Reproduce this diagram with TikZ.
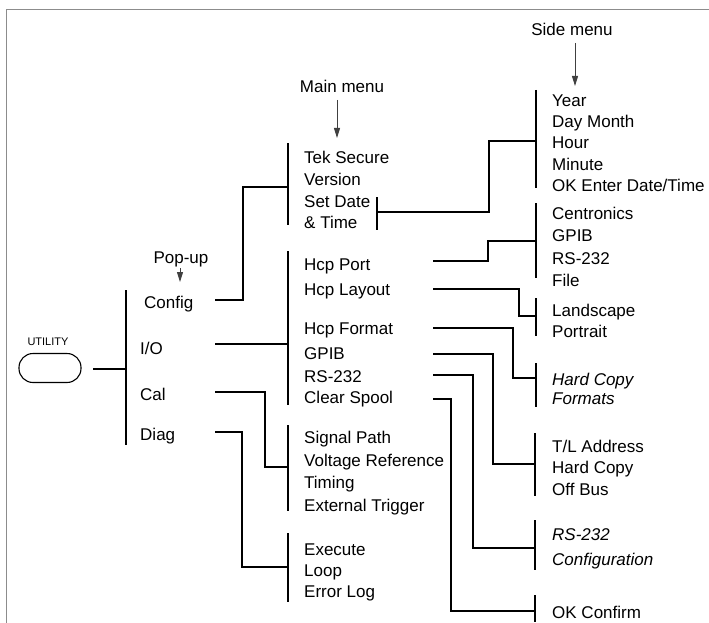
\documentclass[tikz,border=0pt]{standalone}
\usepackage{fontspec}
\setmainfont{Liberation Sans}
\usetikzlibrary{arrows.meta}
\begin{document}
\begin{tikzpicture}[x=1pt,y=-1pt,
  lbl/.style={anchor=base west, inner sep=0pt, font=\fontsize{17}{20}\selectfont},
  ital/.style={anchor=base west, inner sep=0pt, font=\fontsize{17}{20}\selectfont\itshape},
  heading/.style={anchor=base, inner sep=0pt, font=\fontsize{17}{20}\selectfont},
  bar/.style={line width=2.2pt},
  conn/.style={line width=1.8pt},
  pointer/.style={line width=0.9pt, black!75, -{Triangle[length=10pt,width=6pt]}},
  framing/.style={line width=0.9pt, black!45}]
\useasboundingbox (0,0) rectangle (709,623);
% frame
\draw[framing] (6,623) -- (6,9) -- (709,9);

% headings and pointers
\node[heading] (hpop) at (181,263) {Pop-up};
\node[heading] (hmain) at (342,93) {Main menu};
\node[heading] (hside) at (572,36) {Side menu};
\coordinate (apop1) at (180,268); \coordinate (apop2) at (180,282);
\coordinate (amain1) at (337,100); \coordinate (amain2) at (337,138);
\coordinate (aside1) at (575,43); \coordinate (aside2) at (575,86);
\draw[pointer] (apop1) -- (apop2);
\draw[pointer] (amain1) -- (amain2);
\draw[pointer] (aside1) -- (aside2);

% utility button
\node[anchor=base, inner sep=0pt, font=\fontsize{11}{13}\selectfont] (utl) at (48,345) {UTILITY};
\node[draw, line width=1.1pt, rounded corners=14pt, minimum width=62pt, minimum height=29pt, inner sep=0pt] (btn) at (50,368) {};

% pop-up menu
\node[lbl] (cfg) at (144,308) {Config};
\node[lbl] (io) at (140,354) {I/O};
\node[lbl] (cal) at (140,400) {Cal};
\node[lbl] (diag) at (140,440) {Diag};
\coordinate (pbT) at (126,290); \coordinate (pbB) at (126,445);
\draw[bar] (pbT) -- (pbB);

% main menu group 1
\node[lbl] (tek) at (304,163) {Tek Secure};
\node[lbl] (ver) at (304,185) {Version};
\node[lbl] (sdate) at (304,207) {Set Date};
\node[lbl] (stime) at (304,228) {\& Time};
\coordinate (m1T) at (288,143); \coordinate (m1B) at (288,225);
\draw[bar] (m1T) -- (m1B);
\coordinate (sdT) at (377,197); \coordinate (sdB) at (377,230);
\draw[bar] (sdT) -- (sdB);

% main menu group 2
\node[lbl] (hport) at (304,270) {Hcp Port};
\node[lbl] (hlay) at (304,295) {Hcp Layout};
\node[lbl] (hfmt) at (304,334) {Hcp Format};
\node[lbl] (gpib) at (304,359) {GPIB};
\node[lbl] (rs) at (304,382) {RS-232};
\node[lbl] (clr) at (304,403) {Clear Spool};
\coordinate (m2T) at (288,251); \coordinate (m2B) at (288,405);
\draw[bar] (m2T) -- (m2B);

% main menu group 3
\node[lbl] (sig) at (304,443) {Signal Path};
\node[lbl] (volt) at (304,466) {Voltage Reference};
\node[lbl] (tim) at (304,488) {Timing};
\node[lbl] (ext) at (304,511) {External Trigger};
\coordinate (m3T) at (288,425); \coordinate (m3B) at (288,511);
\draw[bar] (m3T) -- (m3B);

% main menu group 4
\node[lbl] (exe) at (304,555) {Execute};
\node[lbl] (loop) at (304,576) {Loop};
\node[lbl] (elog) at (304,597) {Error Log};
\coordinate (m4T) at (288,533); \coordinate (m4B) at (288,602);
\draw[bar] (m4T) -- (m4B);

% side menus
\node[lbl] (year) at (552,107) {Year};
\node[lbl] (day) at (552,128) {Day Month};
\node[lbl] (hour) at (552,149) {Hour};
\node[lbl] (minu) at (552,170) {Minute};
\node[lbl] (oken) at (552,191) {OK Enter Date/Time};
\coordinate (s1T) at (536,90); \coordinate (s1B) at (536,188);
\draw[bar] (s1T) -- (s1B);

\node[lbl] (cen) at (552,219) {Centronics};
\node[lbl] (sgpib) at (552,241) {GPIB};
\node[lbl] (srs) at (552,264) {RS-232};
\node[lbl] (file) at (552,286) {File};
\coordinate (s2T) at (536,203); \coordinate (s2B) at (536,278);
\draw[bar] (s2T) -- (s2B);

\node[lbl] (land) at (552,316) {Landscape};
\node[lbl] (port) at (552,337) {Portrait};
\coordinate (s3T) at (536,298); \coordinate (s3B) at (536,336);
\draw[bar] (s3T) -- (s3B);

\node[ital] (hcf1) at (552,385) {Hard Copy};
\node[ital] (hcf2) at (552,404) {Formats};
\coordinate (s4T) at (536,363); \coordinate (s4B) at (536,407);
\draw[bar] (s4T) -- (s4B);

\node[lbl] (tl) at (552,452) {T/L Address};
\node[lbl] (hcopy) at (552,473) {Hard Copy};
\node[lbl] (off) at (552,495) {Off Bus};
\coordinate (s5T) at (535,433); \coordinate (s5B) at (535,496);
\draw[bar] (s5T) -- (s5B);

\node[ital] (rsc1) at (552,540) {RS-232};
\node[ital] (rsc2) at (552,565) {Configuration};
\coordinate (s6T) at (535,520); \coordinate (s6B) at (535,570);
\draw[bar] (s6T) -- (s6B);

\node[lbl] (okc) at (552,618) {OK Confirm};
\coordinate (s7T) at (535,595); \coordinate (s7B) at (535,622);
\draw[bar] (s7T) -- (s7B);

% connector start and end points
\coordinate (cU) at (93,369);   \coordinate (eU) at (126,369);
\coordinate (cCfg) at (215,300); \coordinate (eCfg) at (288,187);
\coordinate (cIO) at (215,344);  \coordinate (eIO) at (288,344);
\coordinate (cCal) at (215,392); \coordinate (eCal) at (288,467);
\coordinate (cDiag) at (215,432); \coordinate (eDiag) at (288,567);
\coordinate (cSD) at (377,212);  \coordinate (eSD) at (536,141);
\coordinate (cHP) at (433,261);  \coordinate (eHP) at (536,241);
\coordinate (cHL) at (433,289);  \coordinate (eHL) at (536,316);
\coordinate (cHF) at (433,328);  \coordinate (eHF) at (536,378);
\coordinate (cGP) at (433,354);  \coordinate (eGP) at (535,464);
\coordinate (cRS) at (433,375);  \coordinate (eRS) at (535,548);
\coordinate (cCS) at (433,399);  \coordinate (eCS) at (535,611);

\draw[conn] (cU) -- (eU);
\draw[conn] (cCfg) -- ++(28,0) |- (eCfg);
\draw[conn] (cIO) -- (eIO);
\draw[conn] (cCal) -- ++(50,0) |- (eCal);
\draw[conn] (cDiag) -- ++(27,0) |- (eDiag);
\draw[conn] (cSD) -- ++(112,0) |- (eSD);
\draw[conn] (cHP) -- ++(55,0) |- (eHP);
\draw[conn] (cHL) -- ++(86,0) |- (eHL);
\draw[conn] (cHF) -- ++(80,0) |- (eHF);
\draw[conn] (cGP) -- ++(60,0) |- (eGP);
\draw[conn] (cRS) -- ++(40,0) |- (eRS);
\draw[conn] (cCS) -- ++(18,0) |- (eCS);
\end{tikzpicture}
\end{document}
